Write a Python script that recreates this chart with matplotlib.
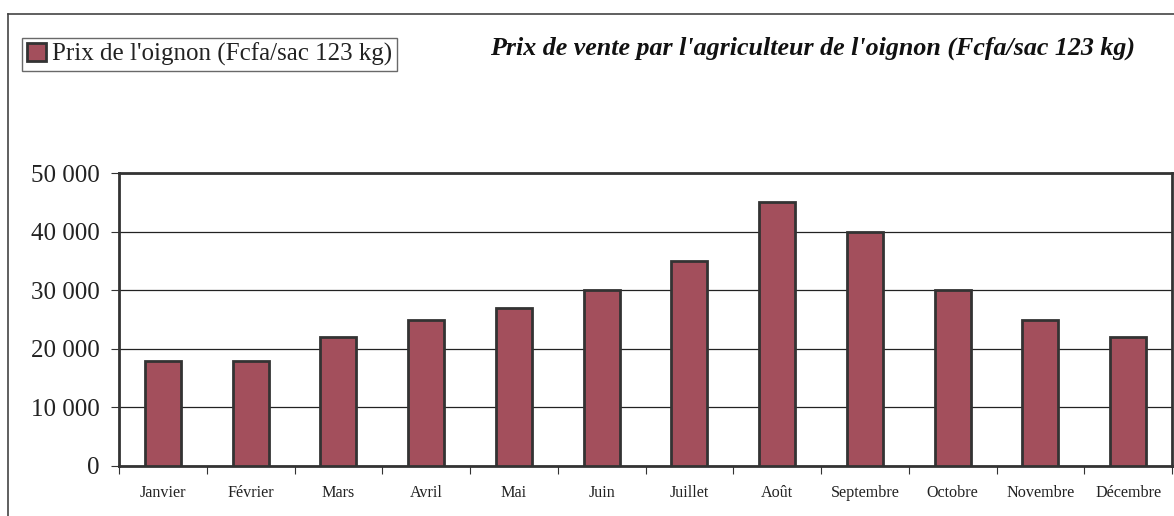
import matplotlib.pyplot as plt
from matplotlib.lines import Line2D
from matplotlib.patches import Rectangle
from matplotlib.ticker import FuncFormatter, FixedLocator, NullFormatter

mois = ["Janvier", "Février", "Mars", "Avril", "Mai", "Juin", "Juillet",
        "Août", "Septembre", "Octobre", "Novembre", "Décembre"]
prix = [18000, 18000, 22000, 25000, 27000, 30000, 35000,
        45000, 40000, 30000, 25000, 22000]
serie = "Prix de l'oignon (Fcfa/sac 123 kg)"
titre = "Prix de vente par l'agriculteur de l'oignon (Fcfa/sac 123 kg)"

plt.rcParams['font.family'] = ['Liberation Serif', 'DejaVu Serif']

fig = plt.figure(figsize=(11.74, 5.16), dpi=100)
ax = fig.add_axes([119 / 1174, 1 - 466 / 516, (1172 - 119) / 1174, (466 - 173) / 516])

x = list(range(len(mois)))
ax.bar(x, prix, width=0.41, color="#A34F5C", edgecolor="#333333", linewidth=2, zorder=3)

ax.set_xlim(-0.5, len(mois) - 0.5)
ax.set_ylim(0, 50000)
ax.set_yticks(range(0, 50001, 10000))
ax.yaxis.set_major_formatter(FuncFormatter(lambda v, p: f"{int(v):,}".replace(",", " ")))
ax.grid(axis="y", color="#222222", linewidth=0.9, zorder=0)

# ticks between categories, labels centered
ax.xaxis.set_major_locator(FixedLocator([i + 0.5 for i in range(-1, len(mois))]))
ax.xaxis.set_major_formatter(NullFormatter())
ax.xaxis.set_minor_locator(FixedLocator(x))
ax.set_xticklabels(mois, minor=True, fontsize=11.6, color="#222222")
ax.tick_params(axis="x", which="minor", length=0, pad=14)
ax.tick_params(axis="x", which="major", length=6, direction="out", color="#333333")
ax.tick_params(axis="y", length=6, direction="out", color="#333333",
               labelsize=18, labelcolor="#222222", pad=8)

for s in ax.spines.values():
    s.set_color("#333333")
    s.set_linewidth(2)

# outer frame
fig.add_artist(Line2D([8 / 1174, 8 / 1174], [0, 1 - 14 / 516], transform=fig.transFigure,
                      color="#444444", linewidth=1.2))
fig.add_artist(Line2D([8 / 1174, 1], [1 - 14 / 516, 1 - 14 / 516], transform=fig.transFigure,
                      color="#444444", linewidth=1.2))

# legend
leg = ax.legend([Rectangle((0, 0), 1, 1, facecolor="#A34F5C", edgecolor="#333333", linewidth=2)],
                [serie], loc="upper left", bbox_to_anchor=(22 / 1174, 1 - 38 / 516),
                bbox_transform=fig.transFigure, fontsize=18, frameon=True, fancybox=False,
                handlelength=0.75, handleheight=0.75, handletextpad=0.25, borderpad=0.2,
                borderaxespad=0)
leg.get_frame().set_edgecolor("#444444")
leg.get_frame().set_linewidth(1)
for t in leg.get_texts():
    t.set_color("#222222")

fig.text(1135 / 1174, 1 - 48 / 516, titre, ha="right", va="center", fontsize=18.7,
         fontweight="bold", fontstyle="italic", color="#111111")

fig.savefig("out.png", dpi=100)
